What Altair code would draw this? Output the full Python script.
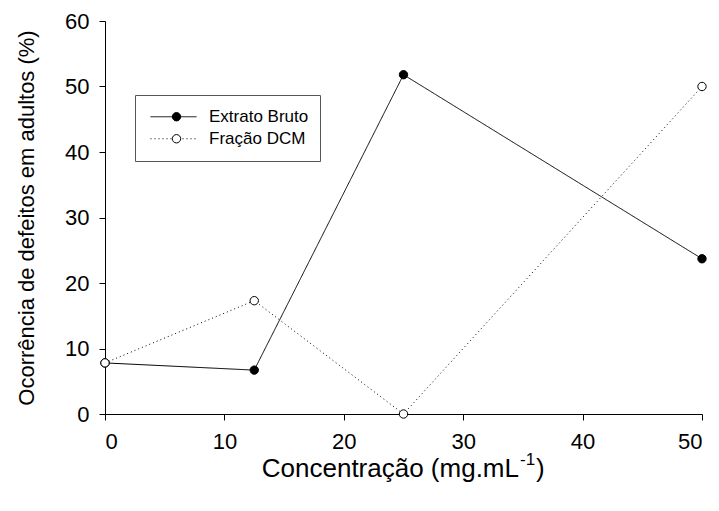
import altair as alt
import pandas as pd

# ---- data ----
concentracao = [0, 12.5, 25, 50]
extrato_bruto = [7.8, 6.7, 51.8, 23.7]
fracao_dcm = [7.8, 17.3, 0.0, 50.0]
series = ["Extrato Bruto", "Fração DCM"]
x_ticks = [0, 10, 20, 30, 40, 50]
y_ticks = [0, 10, 20, 30, 40, 50, 60]
x_title_main = "Concentração (mg.mL"
x_title_sup = "-1"
x_title_end = ")"
y_title = "Ocorrência de defeitos em adultos (%)"

# the marker legend gets its own domain so it is not merged with the line legend
series_p = [s + " " for s in series]

rows = []
for s, sp, vals in zip(series, series_p, [extrato_bruto, fracao_dcm]):
    for i, (c, v) in enumerate(zip(concentracao, vals)):
        rows.append({"conc": c, "val": v, "serie": s, "serie_p": sp, "ordem": i})
df = pd.DataFrame(rows)

FONT = "Liberation Sans"
W, H = 597, 393

x_enc = alt.X(
    "conc:Q",
    scale=alt.Scale(domain=[0, 50], nice=False, zero=False),
    axis=alt.Axis(values=x_ticks, title=None, labelPadding=11),
)
y_enc = alt.Y(
    "val:Q",
    scale=alt.Scale(domain=[0, 60], nice=False),
    axis=alt.Axis(values=y_ticks, title=y_title, titlePadding=26),
)

base = alt.Chart(df)

lines = base.mark_line(color="black", strokeWidth=1).encode(
    x=x_enc,
    y=y_enc,
    order="ordem:Q",
    strokeDash=alt.StrokeDash(
        "serie:N",
        scale=alt.Scale(domain=series, range=[[1, 0], [1, 3]]),
        legend=alt.Legend(
            title=None,
            orient="none",
            legendX=30,
            legendY=74,
            symbolType="stroke",
            symbolSize=2116,
            symbolStrokeColor="black",
            symbolStrokeWidth=1,
            symbolOffset=4,
            padding=11,
            rowPadding=0,
            clipHeight=21.5,
            labelOffset=12,
            labelFont=FONT,
            labelFontSize=17,
            labelColor="black",
            labelExpr="datum.label + '    '",
            strokeColor="#555555",
        ),
    ),
)

points = base.mark_point(
    filled=True, shape="circle", size=70, stroke="black", strokeWidth=1, opacity=1
).encode(
    x=x_enc,
    y=y_enc,
    fill=alt.Fill(
        "serie_p:N",
        scale=alt.Scale(domain=series_p, range=["black", "white"]),
        legend=alt.Legend(
            title=None,
            orient="none",
            legendX=52,
            legendY=74,
            symbolType="circle",
            symbolSize=70,
            symbolStrokeColor="black",
            symbolStrokeWidth=1,
            symbolOpacity=1,
            padding=11,
            rowPadding=0,
            clipHeight=21.5,
            labelFont=FONT,
            labelFontSize=17,
            labelExpr="''",
        ),
    ),
)

# x-axis title with a real superscript
t_main = alt.Chart(pd.DataFrame({"t": [x_title_main]})).mark_text(
    font=FONT, fontSize=26, align="right", baseline="alphabetic", color="black"
).encode(text="t:N", x=alt.value(414), y=alt.value(456))
t_sup = alt.Chart(pd.DataFrame({"t": [x_title_sup]})).mark_text(
    font=FONT, fontSize=17, align="left", baseline="alphabetic", color="black"
).encode(text="t:N", x=alt.value(415), y=alt.value(444))
t_end = alt.Chart(pd.DataFrame({"t": [x_title_end]})).mark_text(
    font=FONT, fontSize=26, align="left", baseline="alphabetic", color="black"
).encode(text="t:N", x=alt.value(431), y=alt.value(456))

chart = (
    alt.layer(lines, points, t_main, t_sup, t_end)
    .properties(
        width=W,
        height=H,
        autosize=alt.AutoSizeParams(type="none"),
        padding={"left": 105, "top": 21, "right": 17, "bottom": 97},
        background="white",
    )
    .configure_view(stroke=None)
    .configure_axis(
        grid=False,
        domainColor="black",
        domainWidth=1,
        tickColor="black",
        tickSize=6,
        tickWidth=1,
        labelFont=FONT,
        labelFontSize=22,
        labelColor="black",
        titleFont=FONT,
        titleFontSize=22,
        titleFontWeight="normal",
        titleColor="black",
    )
    .configure_axisY(labelPadding=10)
)

chart.save("out.html", embed_options={"renderer": "svg", "actions": False})
